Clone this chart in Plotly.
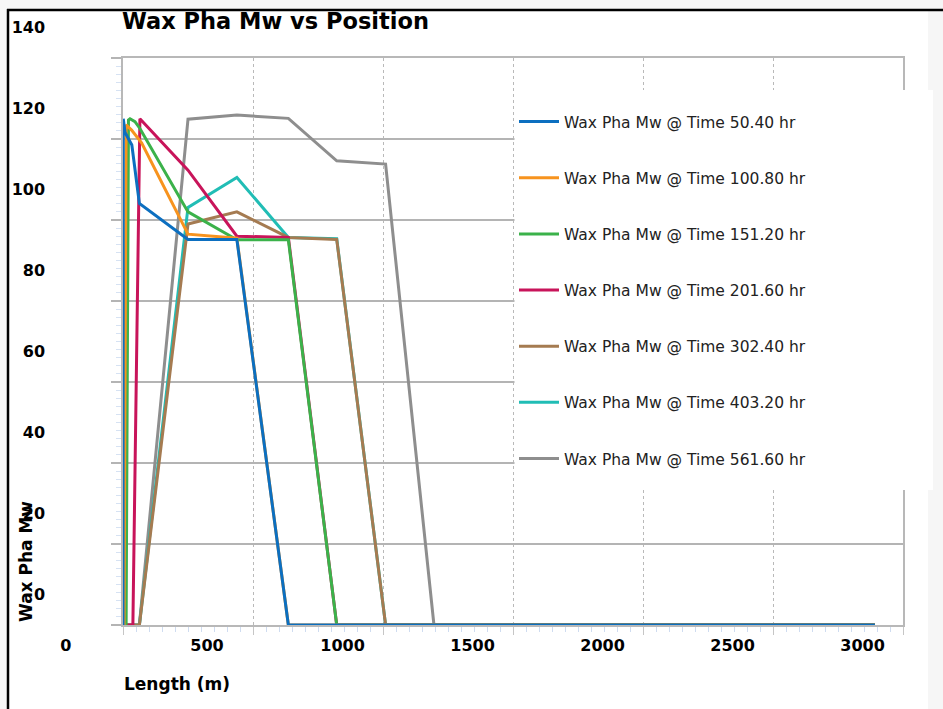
import plotly.graph_objects as go

# Simulation times and line colours
times = ["50.40", "100.80", "151.20", "201.60", "302.40", "403.20", "561.60"]
colors = ["#0c6fc0", "#f7931e", "#3bb24a", "#c8145a", "#a57b51", "#21bdb5", "#8e8e8e"]

# Wax phase molecular weight along the line (length in m)
x_50 = [0, 1, 8, 34, 63, 250, 438, 636, 2892]
y_50 = [0, 125, 121.6, 118.5, 104.1, 95.2, 95.2, 0, 0]

x_100 = [4, 12, 33, 72, 250, 438, 636, 2892]
y_100 = [0, 123.5, 122.2, 119, 96.5, 95.5, 0, 0]

x_151 = [12, 21, 27, 46, 65, 250, 438, 636, 822, 2892]
y_151 = [0, 124.7, 125, 124.3, 122.6, 102, 95.1, 95.1, 0, 0]

x_201 = [0, 38, 65, 250, 438, 636, 822, 2892]
y_201 = [0, 0, 125, 112.3, 96.0, 95.7, 0, 0]

x_302 = [0, 63, 250, 438, 636, 822, 1010, 2892]
y_302 = [0, 0, 99, 102, 95.7, 95.2, 0, 0]

x_403 = [0, 63, 250, 438, 636, 822, 1010, 2892]
y_403 = [0, 0, 103.1, 110.5, 95.7, 95.4, 0, 0]

x_561 = [0, 63, 250, 438, 636, 822, 1010, 1196, 2892]
y_561 = [0, 0, 124.9, 125.9, 125.1, 114.6, 113.8, 0, 0]

xs = [x_50, x_100, x_151, x_201, x_302, x_403, x_561]
ys = [y_50, y_100, y_151, y_201, y_302, y_403, y_561]

# Pixel geometry of the plotting area
W, H = 943, 709
L, R, T, B = 123, 903, 58, 625


def px_x(p):
    return (p - L) / (R - L)


def px_y(p):
    return (B - p) / (B - T)


fig = go.Figure()

# latest time drawn first so the earliest profile lies on top
for i in reversed(range(len(times))):
    fig.add_trace(go.Scatter(
        x=xs[i], y=ys[i], mode="lines",
        name=f"Wax Pha Mw @ Time {times[i]} hr",
        line=dict(color=colors[i], width=3),
        legendgroup=f"g{i}", legendrank=i + 1,
    ))

tick_font = dict(family="DejaVu Sans", size=16, color="#000000", weight="bold")

fig.update_layout(
    width=W, height=H,
    margin=dict(l=L, r=W - R, t=T, b=H - B, autoexpand=False),
    paper_bgcolor="#f6f6f6",
    plot_bgcolor="#ffffff",
    showlegend=True,
    title=dict(
        text="Wax Pha Mw vs Position",
        font=dict(family="DejaVu Sans", size=22.5, color="#000000", weight="bold"),
        xref="container", yref="container",
        x=122 / W, xanchor="left", y=1 - 21 / H, yanchor="middle",
    ),
    xaxis=dict(
        range=[0, 3000], tick0=0, dtick=500,
        showgrid=True, gridcolor="#b9b9b9", griddash="dot", gridwidth=1,
        showline=True, linecolor="#b8b8b8", linewidth=1.5, mirror=True,
        ticks="outside", ticklen=8, tickcolor="#c6c6c6", tickwidth=1,
        tickfont=tick_font,
        ticklabelposition="outside right", ticklabelshift=-64, ticklabelstandoff=5,
        minor=dict(dtick=50, ticklen=5, tickcolor="#cfdcf0", tickwidth=1,
                   ticks="outside", showgrid=False),
        zeroline=False,
    ),
    yaxis=dict(
        range=[0, 140], tick0=0, dtick=20,
        showgrid=True, gridcolor="#b4b4b4", gridwidth=1.5,
        showline=True, linecolor="#b8b8b8", linewidth=1.5, mirror=True,
        ticks="outside", ticklen=10, tickcolor="#b4b4b4", tickwidth=1.5,
        tickfont=tick_font,
        ticklabelshift=-31, ticklabelstandoff=63,
        minor=dict(dtick=2, ticklen=5, tickcolor="#d6e2f3", tickwidth=1,
                   ticks="outside", showgrid=False),
        zeroline=False,
    ),
    legend=dict(
        x=px_x(514), xanchor="left", xref="paper",
        y=px_y(105), yanchor="top", yref="paper",
        bgcolor="rgba(0,0,0,0)", borderwidth=0,
        font=dict(family="DejaVu Sans", size=15.5, color="#222222"),
        tracegroupgap=33, itemwidth=40,
    ),
    shapes=[
        # white page behind the chart
        dict(type="rect", xref="paper", yref="paper",
             x0=px_x(8), x1=px_x(928), y0=px_y(712), y1=px_y(10),
             fillcolor="#ffffff", line=dict(width=0), layer="below"),
        # legend panel
        dict(type="rect", xref="paper", yref="paper",
             x0=px_x(514.5), x1=px_x(933), y0=px_y(490), y1=px_y(90),
             fillcolor="#ffffff", line=dict(width=0), layer="above"),
        # page border
        dict(type="line", xref="paper", yref="paper",
             x0=px_x(7), x1=px_x(945), y0=px_y(10), y1=px_y(10),
             line=dict(color="#000000", width=2.5), layer="above"),
        dict(type="line", xref="paper", yref="paper",
             x0=px_x(8), x1=px_x(8), y0=px_y(9), y1=px_y(712),
             line=dict(color="#000000", width=2.5), layer="above"),
    ],
    annotations=[
        dict(text="Length (m)", xref="paper", yref="paper",
             x=px_x(122), xanchor="left", y=px_y(684), yanchor="middle",
             showarrow=False,
             font=dict(family="DejaVu Sans", size=17, color="#000000", weight="bold")),
        dict(text="Wax Pha Mw", xref="paper", yref="paper",
             x=px_x(26), xanchor="center", y=px_y(562), yanchor="middle",
             showarrow=False, textangle=-90,
             font=dict(family="DejaVu Sans", size=17, color="#000000", weight="bold")),
    ],
)

fig.write_html("out.html")
